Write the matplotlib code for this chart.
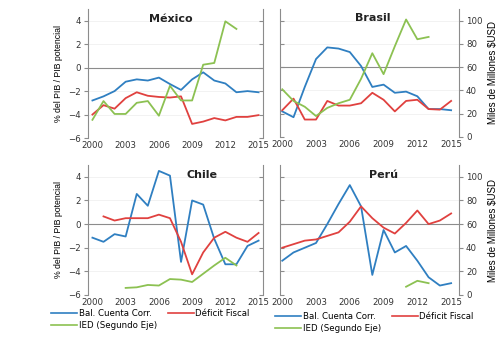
import matplotlib
matplotlib.use("Agg")
import matplotlib.pyplot as plt
from matplotlib.lines import Line2D

plt.rcParams["font.family"] = ["DejaVu Sans"]

years = list(range(2000, 2016))

# % del PIB / PIB potencial (eje izquierdo)
mx_bal = [-2.8, -2.45, -2.0, -1.2, -1.0, -1.1, -0.85, -1.4, -1.9, -1.0, -0.4, -1.1, -1.35, -2.1, -2.0, -2.1]
mx_def = [-4.0, -3.2, -3.5, -2.6, -2.1, -2.4, -2.5, -2.55, -2.45, -4.8, -4.6, -4.3, -4.5, -4.2, -4.2, -4.05]
br_bal = [-3.8, -4.3, -1.7, 0.7, 1.7, 1.6, 1.3, 0.1, -1.7, -1.5, -2.2, -2.1, -2.5, -3.6, -3.6, -3.7]
br_def = [-3.7, -2.7, -4.5, -4.5, -2.9, -3.3, -3.3, -3.1, -2.2, -2.8, -3.8, -2.9, -2.8, -3.6, -3.65, -2.9]
cl_bal = [-1.15, -1.5, -0.85, -1.05, 2.55, 1.55, 4.5, 4.1, -3.2, 2.0, 1.65, -1.25, -3.4, -3.4, -1.85, -1.4]
cl_def = [None, 0.65, 0.3, 0.5, 0.5, 0.5, 0.8, 0.5, -1.5, -4.25, -2.4, -1.15, -0.65, -1.15, -1.5, -0.75]
pe_bal = [-3.1, -2.4, -2.0, -1.6, 0.0, 1.7, 3.3, 1.5, -4.3, -0.5, -2.4, -1.85, -3.1, -4.5, -5.2, -5.0]
pe_def = [-2.0, -1.7, -1.4, -1.3, -1.0, -0.7, 0.2, 1.5, 0.5, -0.3, -0.8, 0.1, 1.15, 0.0, 0.3, 0.9]

# IED, miles de millones USD (segundo eje)
mx_ied = [15.5, 31.5, 20.5, 20.5, 30, 31.5, 19, 44.5, 32, 32, 62.5, 64, 99.5, 93]
br_ied = [41, 31, 26, 18, 25, 29, 32, 50, 72, 54, 78, 101, 84, 86]
cl_ied = [None, None, None, 6, 6.5, 8.5, 8, 13.5, 13, 11, 18, 25, 31.5, 25]
pe_ied = [None] * 11 + [7, 12, 10]

blue = "#2f7fc1"
red = "#e0413f"
green = "#8cc152"
gray = "#8c8c8c"

fig = plt.figure(figsize=(5.0, 3.44), dpi=100)
W, H = 500, 344


def box(l, r, t, b):
    return [l / W, 1 - b / H, (r - l) / W, (b - t) / H]


panels = [
    ("México", mx_bal, mx_def, mx_ied, box(88, 263, 9, 138), "left", (1999.6, 2015.4), 0.475),
    ("Brasil", br_bal, br_def, br_ied, box(280, 459, 9, 137), "right", (1999.8, 2015.7), 0.52),
    ("Chile", cl_bal, cl_def, cl_ied, box(88, 263, 165, 295), "left", (1999.6, 2015.4), 0.65),
    ("Perú", pe_bal, pe_def, pe_ied, box(280, 459, 165, 295), "right", (1999.8, 2015.7), 0.58),
]

for name, bal, dfc, ied, pos, side, xl, tx in panels:
    ax = fig.add_axes(pos)
    ax2 = ax.twinx()
    ax.set_ylim(-6, 5)
    ax2.set_ylim(0, 110)
    ax.set_xlim(*xl)
    ax.set_yticks([-6, -4, -2, 0, 2, 4])
    ax2.set_yticks([0, 20, 40, 60, 80, 100])
    ax.set_xticks(range(2000, 2016, 3))
    ax.tick_params(axis="x", length=0, pad=2, labelsize=6.2, colors="#333333")
    for a in (ax, ax2):
        for s in a.spines.values():
            s.set_visible(False)
    ax.spines["left"].set_visible(True)
    ax.spines["left"].set_color(gray)
    ax2.spines["right"].set_visible(True)
    ax2.spines["right"].set_color(gray)
    ax.yaxis.grid(True, color="#f0f0f0", lw=0.6)
    ax.set_axisbelow(True)
    ax.axhline(0, color=gray, lw=0.8, zorder=1)

    if side == "left":
        ax.tick_params(axis="y", direction="out", length=3, color=gray, labelsize=6.2, pad=2, labelcolor="#333333")
        ax2.tick_params(axis="y", direction="in", length=3, color=gray, labelright=False)
        ax.set_ylabel("% del PIB / PIB potencial", fontsize=6.3, labelpad=4, family=["Liberation Sans", "DejaVu Sans"])
    else:
        ax.tick_params(axis="y", direction="in", length=3, color=gray, labelleft=False)
        ax2.tick_params(axis="y", direction="out", length=3, color=gray, labelsize=6.2, pad=2, labelcolor="#333333")
        ax2.set_ylabel("Miles de Millones $USD", fontsize=7, labelpad=4, family=["Liberation Sans", "DejaVu Sans"])

    ax.plot(years, bal, color=blue, lw=1.3, zorder=3)
    ax.plot(years, dfc, color=red, lw=1.3, zorder=3)
    ax2.plot(years[:len(ied)], ied, color=green, lw=1.3)
    ax2.text(tx, 0.965, name, transform=ax2.transAxes, ha="center", va="top",
             fontsize=8, fontweight="bold", color="#222222", zorder=5)

labels = ["Bal. Cuenta Corr.", "IED (Segundo Eje)", "Déficit Fiscal"]
handles = [Line2D([], [], color=c, lw=1.2) for c in (blue, green, red)]
for x0, y0 in ((51 / W, 1 - 309 / H), (275 / W, 1 - 312 / H)):
    fig.legend(handles, labels, loc="upper left", bbox_to_anchor=(x0, y0), ncol=2,
               frameon=False, fontsize=6.2, handlelength=3.0, handletextpad=0.2,
               columnspacing=1.3, labelspacing=0.3, borderpad=0, borderaxespad=0)

fig.savefig("out.png", dpi=100)
